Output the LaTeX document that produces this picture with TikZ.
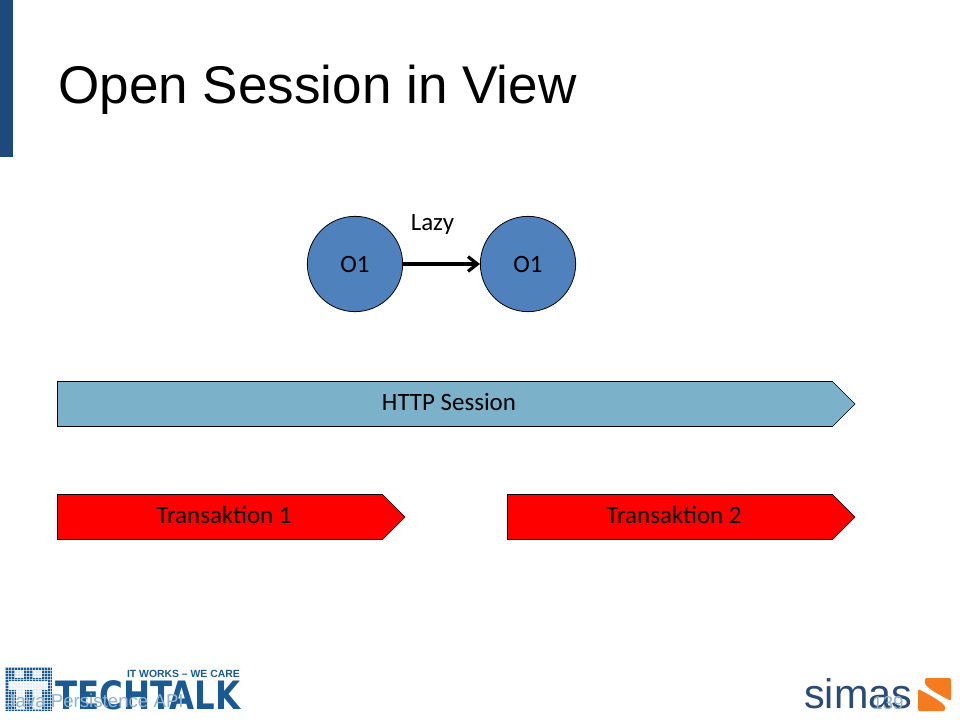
\documentclass[tikz,border=0pt]{standalone}
\usepackage{fontspec}
\setmainfont{Carlito}
\newfontfamily\arialf{Liberation Sans}
\newfontfamily\heavyf{DejaVu Sans}
\usetikzlibrary{arrows.meta}
\definecolor{barblue}{HTML}{1F497D}
\definecolor{circblue}{HTML}{4F81BD}
\definecolor{sessblue}{HTML}{7BB1C9}
\definecolor{ttblue}{HTML}{1A5A94}
\definecolor{simasblue}{HTML}{2A4A7A}
\definecolor{simasorange}{HTML}{F47B20}
\definecolor{footgrey}{HTML}{8FB4CF}
\tikzset{
  objcircle/.style={circle,draw=black,line width=0.6pt,fill=circblue,minimum size=71.5pt,inner sep=0pt,font=\fontsize{18.7}{20}\selectfont},
  pentlabel/.style={font=\fontsize{18.7}{20}\selectfont,inner sep=0pt,anchor=center},
  pentline/.style={draw=black,line width=0.5pt},
  footlabel/.style={text=footgrey,font=\arialf\fontsize{14}{16}\selectfont,inner sep=0pt}
}
\begin{document}
\begin{tikzpicture}[x=0.75pt,y=-0.75pt]
\useasboundingbox (0,0) rectangle (960,720);
\fill[white] (0,0) rectangle (960,720);
\fill[barblue] (0,0) rectangle (13,157);
\node[anchor=base west,inner sep=0pt,font=\arialf\fontsize{39.8}{44}\selectfont] (title) at (58,103.5) {Open Session in View};
% circles
\node[objcircle] (o1) at (355,264) {O1};
\node[objcircle] (o2) at (528,264) {O1};
\draw[line width=2.4pt,-{Straight Barb[length=7pt,width=11pt]}] (o1) -- (o2);
\node[font=\fontsize{18.7}{20}\selectfont,inner sep=0pt] (lazy) at (432.5,225) {Lazy};
% pentagons
\path[pentline,fill=sessblue] (57.5,381.5) -- (832.5,381.5) -- (855,404) -- (832.5,426.5) -- (57.5,426.5) -- cycle;
\node[pentlabel] (http) at (449,402) {HTTP Session};
\path[pentline,fill=red] (57.5,494.5) -- (382.5,494.5) -- (405,517) -- (382.5,539.5) -- (57.5,539.5) -- cycle;
\node[pentlabel] (t1) at (224,515) {Transaktion 1};
\path[pentline,fill=red] (507.5,494.5) -- (832.5,494.5) -- (855,517) -- (832.5,539.5) -- (507.5,539.5) -- cycle;
\node[pentlabel] (t2) at (674,515) {Transaktion 2};
% techtalk logo
\fill[ttblue] (5,667) rectangle (52,711);
\foreach \i in {0,...,15} {
  \draw[white,line width=0.35pt,opacity=.6] ({5+\i*3},667) -- ({5+\i*3},711);
  \draw[white,line width=0.35pt,opacity=.6] (5,{667+\i*3}) -- (52,{667+\i*3});
}
\fill[white,opacity=.85] (15,670) rectangle (24,678);
\fill[white,opacity=.85] (33,670) rectangle (42,678);
\fill[white,opacity=.9] (9,681) rectangle (48,690);
\fill[white,opacity=.9] (16,690) rectangle (25,709);
\fill[white,opacity=.9] (33,690) rectangle (42,709);
\node[anchor=base east,inner sep=0pt,text=ttblue,font=\arialf\bfseries\fontsize{7.8}{9}\selectfont] (works) at (240,677.5) {IT WORKS – WE CARE};
\node[anchor=base west,inner sep=0pt,text=ttblue,font=\heavyf\bfseries] (tech) at (55,709) {\pgfinterruptpicture\resizebox{139pt}{21.75pt}{TECHTALK}\endpgfinterruptpicture};
\node[footlabel,anchor=base west] (foot) at (6,707) {Java Persistence API};
% simas logo
\node[anchor=base west,inner sep=0pt,text=simasblue,font=\arialf\fontsize{31}{34}\selectfont] (simas) at (804,708) {simas};
\fill[simasorange,rounded corners=1pt] (925,678) -- (951,678) -- (951,701) .. controls (942,696) and (931,691) .. (925,684) -- cycle;
\fill[simasorange,rounded corners=1pt] (918,689) .. controls (930,695) and (940,701) .. (945,706) -- (945,711) -- (918,711) -- cycle;
\node[footlabel,anchor=base] (num) at (888,709) {139};
\end{tikzpicture}
\end{document}
